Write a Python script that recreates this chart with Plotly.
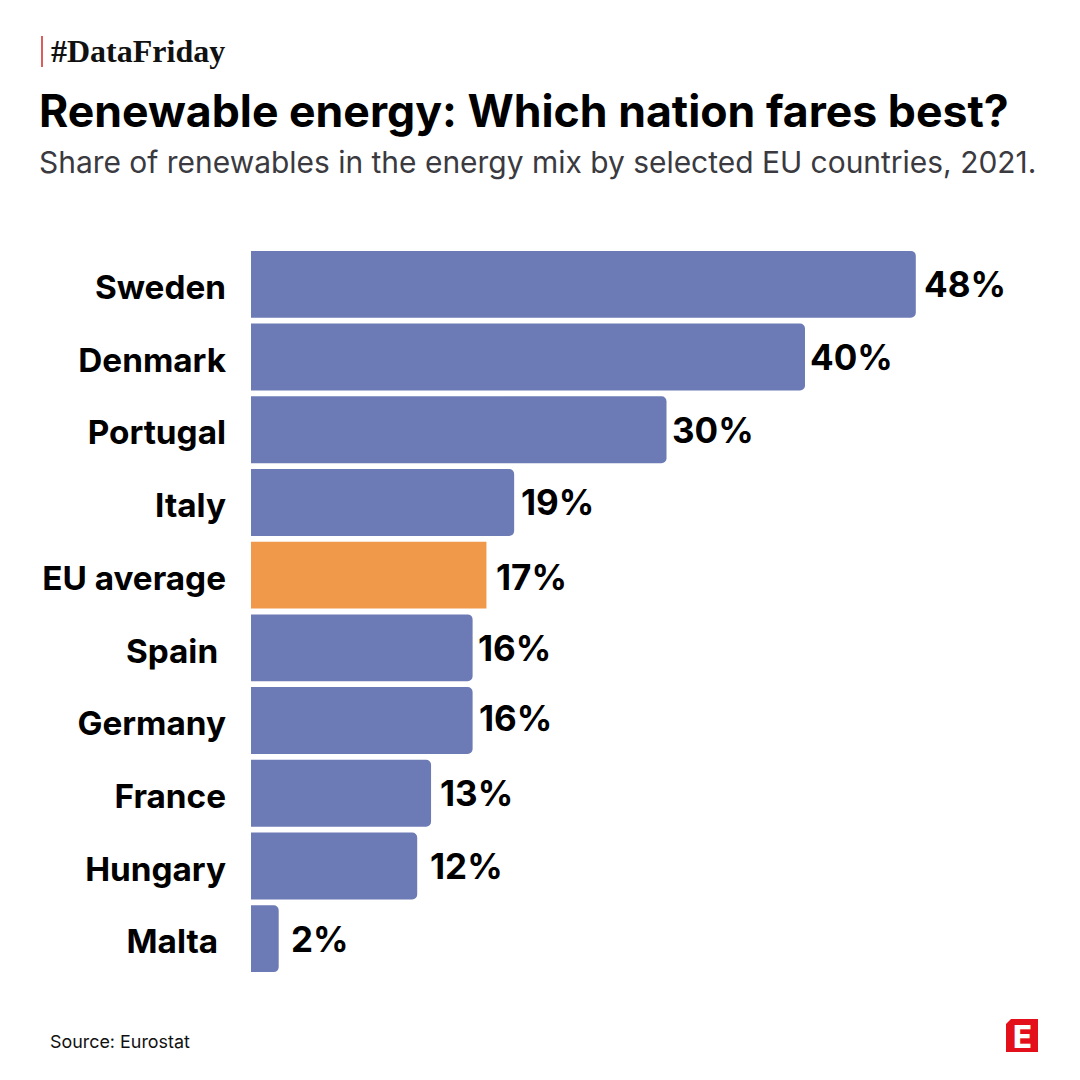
import plotly.graph_objects as go

countries = ["Sweden", "Denmark", "Portugal", "Italy", "EU average", "Spain\u00a0", "Germany", "France", "Hungary", "Malta\u00a0"]
shares = [48, 40, 30, 19, 17, 16, 16, 13, 12, 2]
label_dx = [6, 3, 3, 5, 8, 3, 4, 7, 11, 10]
label_dy = [0, 0, 0, 0, -2, 0, 3, 0, 0, 0]

BLUE = "#6c7bb5"
ORANGE = "#f0994a"
LABEL_FONT = "Inter"

W, H = 1080, 1080
M_L, M_R, M_T, M_B = 251, 0, 248, 105
PX_PER_UNIT = 13.85


def px(x):
    return (x - M_L) / (W - M_L - M_R)


def py(y):
    return 1 - (y - M_T) / (H - M_T - M_B)


blue_idx = [i for i, c in enumerate(countries) if c != "EU average"]
eu_idx = [i for i, c in enumerate(countries) if c == "EU average"]

fig = go.Figure()
fig.add_bar(
    y=[countries[i] for i in blue_idx],
    x=[shares[i] for i in blue_idx],
    orientation="h",
    marker=dict(color=BLUE, cornerradius=5, line=dict(width=0)),
    showlegend=False,
)
fig.add_bar(
    y=[countries[i] for i in eu_idx],
    x=[shares[i] for i in eu_idx],
    orientation="h",
    marker=dict(color=ORANGE, line=dict(width=0)),
    showlegend=False,
)

# value labels sit at the bar end, with the small offsets of the original
for c, v, dx, dy in zip(countries, shares, label_dx, label_dy):
    fig.add_annotation(
        x=v, y=c, text=f"{v}%", showarrow=False, xanchor="left", yanchor="middle",
        xshift=dx, yshift=dy, font=dict(family=LABEL_FONT, size=35, color="#000000", weight=700),
    )


def add_text(x, y, text, family, size, color, weight=400, xanchor="left"):
    fig.add_annotation(
        xref="paper", yref="paper", x=px(x), y=py(y), text=text, showarrow=False,
        xanchor=xanchor, yanchor="middle", xshift=0, borderpad=0, borderwidth=0,
        font=dict(family=family, size=size, color=color, weight=weight),
    )


add_text(51, 51, "#DataFriday", "Liberation Serif", 32, "#111111", 700)
add_text(39, 111, "Renewable energy: Which nation fares best?", "Inter", 44.6, "#000000", 700)
add_text(39, 162, "Share of renewables in the energy mix by selected EU countries, 2021.", "Inter", 29.95, "#3a3a40", 400)
add_text(50, 1041, "Source: Eurostat", "Inter", 17.9, "#111111")

# red tick beside the hashtag
fig.add_shape(type="rect", xref="paper", yref="paper", x0=px(41), x1=px(43), y0=py(36), y1=py(67),
              fillcolor="#d9605a", line_width=0)
# logo
fig.add_shape(
    type="path", xref="paper", yref="paper",
    path=f"M {px(1011)} {py(1019)} L {px(1038)} {py(1019)} L {px(1038)} {py(1052)} "
         f"L {px(1006)} {py(1052)} L {px(1006)} {py(1024)} Z",
    fillcolor="#e3101c", line_width=0,
)
add_text(1022, 1036, "E", "Inter", 31, "#ffffff", 800, xanchor="center")

fig.update_layout(
    width=W, height=H,
    margin=dict(l=M_L, r=M_R, t=M_T, b=M_B, pad=0, autoexpand=False),
    paper_bgcolor="#ffffff", plot_bgcolor="#ffffff",
    barmode="overlay", bargap=0.08,
    xaxis=dict(range=[0, (W - M_L - M_R) / PX_PER_UNIT], visible=False, fixedrange=True),
    yaxis=dict(
        categoryorder="array", categoryarray=countries, autorange="reversed",
        showgrid=False, zeroline=False, showline=False, ticks="",
        ticklabelstandoff=24, ticklabelshift=-3,
        tickfont=dict(family=LABEL_FONT, size=33.3, color="#000000", weight=700),
    ),
)

# page margin off so the 1080 figure fills the window
fig.write_html("out.html", post_script="document.body.style.margin='0';", config=dict(displayModeBar=False))
